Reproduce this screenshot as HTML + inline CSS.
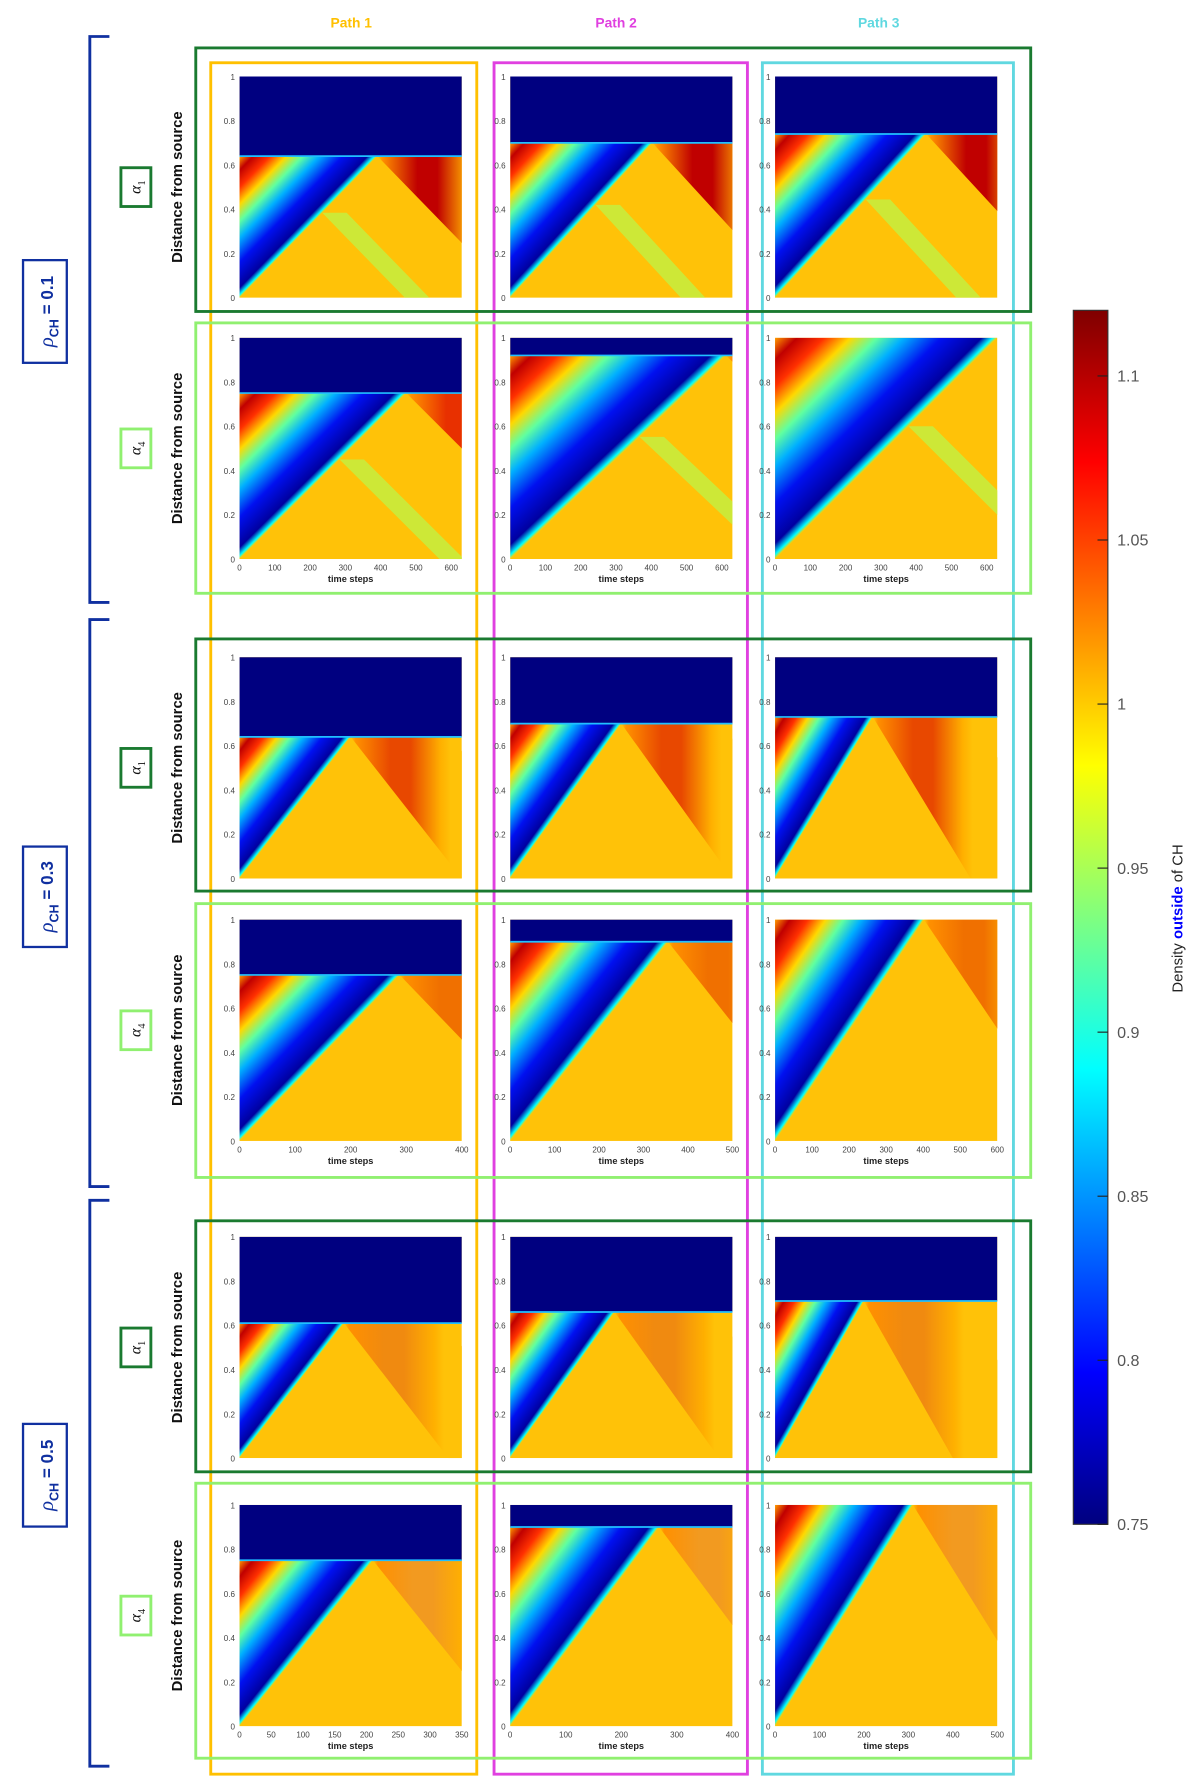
<!DOCTYPE html>
<html><head><meta charset="utf-8"><style>
html,body{margin:0;padding:0;background:#fff;}
svg{display:block;font-family:"Liberation Sans",sans-serif;}
</style></head><body>
<svg id="fig" width="1200" height="1789" viewBox="0 0 1042 1568" preserveAspectRatio="none" xmlns="http://www.w3.org/2000/svg">
<defs>
<linearGradient id="jet" x1="0" y1="1" x2="0" y2="0">
<stop offset="0" stop-color="#00007f"/><stop offset="0.125" stop-color="#0000ff"/><stop offset="0.375" stop-color="#00ffff"/><stop offset="0.625" stop-color="#ffff00"/><stop offset="0.875" stop-color="#ff0000"/><stop offset="1" stop-color="#7f0000"/>
</linearGradient>
<clipPath id="pclip"><rect x="0" y="0" width="193" height="194"/></clipPath>
</defs>
<g id="frames"></g>
<g id="panels"></g>
<g id="labels"></g>
<g id="cbar"></g>
</svg>
<script>
// data
const rowXMaxByPanel = [[600,630,630],[630,630,630],[400,500,600],[400,500,600],[350,400,500],[350,400,500]];
const xTickLabels = [[0,100,200,300,400,500,600],[0,100,200,300,400,500,600],[0,100,200,300,400,500,600]];
const xTicksRow4 = [[0,100,200,300,400],[0,100,200,300,400,500],[0,100,200,300,400,500,600]];
const xTicksRow6 = [[0,50,100,150,200,250,300,350],[0,100,200,300,400],[0,100,200,300,400,500]];
const boundary = [[0.64,0.70,0.74],[0.75,0.92,1.0],[0.64,0.70,0.73],[0.75,0.90,1.0],[0.61,0.66,0.71],[0.75,0.90,1.0]];
const meetFrac = [[0.62,0.64,0.68],[0.75,0.97,1.0],[0.50,0.50,0.44],[0.72,0.71,0.67],[0.47,0.47,0.40],[0.60,0.67,0.62]];
const yTickLabels = [0,0.2,0.4,0.6,0.8,1];
const cbTicks = [0.75,0.8,0.85,0.9,0.95,1,1.05,1.1];
const cbRange = [0.75,1.12];
const pathNames = ['Path 1','Path 2','Path 3'];
const rhoLabels = ['0.1','0.3','0.5'];

const NS='http://www.w3.org/2000/svg';
function mk(tag, attrs, parent){const e=document.createElementNS(NS,tag);for(const k in attrs)e.setAttribute(k,attrs[k]);parent.appendChild(e);return e;}
const frames=document.getElementById('frames'), panels=document.getElementById('panels'), labels=document.getElementById('labels'), cbar=document.getElementById('cbar');
const defs=document.querySelector('defs');

const colX=[208,443,673], PW=193;
const rowY=[67,296,576,806,1084,1319], PH=194;
const rowFrameY=[[42,273],[283,520],[560,781],[792,1032],[1070,1290],[1300,1541]];
const reflColors=['#c00000','#e83000','#e84800','#f07000','#f08a10','#f29a20'];

const colCols=['#ffc000','#e040e0','#60d8e0'], colFX=[[183,414],[429,649],[662,880]];
for(let c=0;c<3;c++){
  const r=mk('rect',{x:colFX[c][0],y:55,width:colFX[c][1]-colFX[c][0],height:1500,fill:'none',stroke:colCols[c],'stroke-width':2.5},frames);
  
  
  const t=mk('text',{x:[305,535,763][c],y:24,fill:colCols[c],'font-size':12,'font-weight':'bold','text-anchor':'middle'},labels);
  t.textContent=pathNames[c];
  
  
}
for(let r=0;r<6;r++){
  const fr=mk('rect',{x:170,y:rowFrameY[r][0],width:725,height:rowFrameY[r][1]-rowFrameY[r][0],fill:'none',stroke:r%2?'#90f070':'#1a7a30','stroke-width':2.5},frames);
  
  
}

let gid=0;
for(let r=0;r<6;r++){
  for(let c=0;c<3;c++){
    const g=mk('g',{transform:'translate('+colX[c]+','+rowY[r]+')'},panels);
    
    
    const gc=mk('g',{'clip-path':'url(#pclip)'},g);
    const b=boundary[r][c], tm=meetFrac[r][c];
    const yb=PH*(1-b), xm=PW*tm;
    mk('rect',{x:0,y:0,width:PW,height:PH,fill:'#ffc208'},gc);
    const slope=xm/(PH-yb);
    const dx=(PH-yb)*slope;
    // secondary green band
    if(r<2){
      const f=0.6, px=xm*f, py=PH-(PH-yb)*f, w=PW*0.11, dd=(PH-py)*slope;
      mk('polygon',{points:[px,py, px+w,py, px+w+dd,PH, px+dd,PH].join(' '),fill:'#c4ee40',opacity:0.85},gc);
    }
    // reflected band
    const id1='rg'+(gid++);
    const lg=mk('linearGradient',{id:id1,gradientUnits:'userSpaceOnUse',x1:xm,y1:yb,x2:xm+PW*0.45,y2:yb},defs);
    const rc=reflColors[r];
    [[0,'#ffc208'],[0.05,'#ff9000'],[0.4,rc],[0.6,rc],[0.9,'#ffb000'],[1,'#ffc208']].forEach(s=>mk('stop',{offset:s[0],'stop-color':s[1]},lg));
    mk('polygon',{points:[xm,yb, xm+PW*0.45,yb, xm+PW*0.45+dx,PH, xm+dx,PH].join(' '),fill:'url(#'+id1+')'},gc);
    // left wedge
    const id2='lg'+(gid++);
    const ux=xm, uy=yb-PH, L=Math.hypot(ux,uy);
    const t=((yb-PH)*uy)/(L*L);
    const fx=t*ux, fy=PH+t*uy;
    const lg2=mk('linearGradient',{id:id2,gradientUnits:'userSpaceOnUse',x1:0,y1:yb,x2:fx,y2:fy},defs);
    [[0,'#ff9a00'],[0.1,'#c00000'],[0.22,'#ff3000'],[0.34,'#ffd800'],[0.46,'#60ffa0'],[0.58,'#00b0ff'],[0.75,'#0010f0'],[0.93,'#0000a0'],[0.98,'#00ffff'],[1,'#ffd000']].forEach(s=>mk('stop',{offset:s[0],'stop-color':s[1]},lg2));
    mk('polygon',{points:[0,PH, xm,yb, 0,yb].join(' '),fill:'url(#'+id2+')'},gc);
    if(yb>0.5){
      mk('rect',{x:0,y:0,width:PW,height:yb,fill:'#000080'},gc);
      mk('line',{x1:0,y1:yb,x2:PW,y2:yb,stroke:'#20c0ff','stroke-width':1.5},gc);
    }
    yTickLabels.forEach(v=>{
      const tt=mk('text',{x:-4,y:PH*(1-v)+3,'font-size':7,fill:'#444','text-anchor':'end'},g);
      tt.textContent=v;
    });
    if(r%2===1){
      const ticks=r===1?xTickLabels[c]:(r===3?xTicksRow4[c]:xTicksRow6[c]);
      const xmax=rowXMaxByPanel[r][c];
      ticks.forEach(v=>{
        const tt=mk('text',{x:PW*v/xmax,y:PH+10,'font-size':7,fill:'#444','text-anchor':'middle'},g);
        tt.textContent=v;
      });
      const xl=mk('text',{x:PW/2,y:PH+20,'font-size':8,'font-weight':'bold',fill:'#222','text-anchor':'middle'},g);
      xl.textContent='time steps';
      
      
    }
  }
  const cy=rowY[r]+PH/2;
  const yl=mk('text',{x:0,y:0,transform:'translate(158,'+cy+') rotate(-90)','font-size':13,'font-weight':'bold',fill:'#111','text-anchor':'middle'},labels);
  yl.textContent='Distance from source';
  
  
  const ab=mk('rect',{x:105,y:cy-17,width:26,height:34,fill:'#fff',stroke:r%2?'#90f070':'#1a7a30','stroke-width':2.5},labels);
  
  
  const at=mk('text',{x:0,y:0,transform:'translate(122,'+cy+') rotate(-90)','font-size':14,'font-family':'Liberation Serif, serif','font-style':'italic',fill:'#111','text-anchor':'middle'},labels);
  at.innerHTML='α<tspan font-size="9" dy="4" font-style="normal">'+(r%2?4:1)+'</tspan>';
}
const brY=[[32,528],[543,1040],[1052,1548]], rhoY=[[228,318],[742,830],[1248,1338]];
for(let i=0;i<3;i++){
  const br=mk('path',{d:'M95 '+brY[i][0]+' H78 V'+brY[i][1]+' H95',fill:'none',stroke:'#1030a0','stroke-width':2.5},labels);
  
  
  const rb=mk('rect',{x:20,y:rhoY[i][0],width:38,height:rhoY[i][1]-rhoY[i][0],fill:'#fff',stroke:'#1030a0','stroke-width':2},labels);
  
  
  const cy=(rhoY[i][0]+rhoY[i][1])/2;
  const rt=mk('text',{x:0,y:0,transform:'translate(46,'+cy+') rotate(-90)','font-size':15,'font-weight':'bold',fill:'#1030a0','text-anchor':'middle'},labels);
  rt.innerHTML='<tspan font-family="Liberation Serif, serif" font-style="italic" font-weight="normal" font-size="18">ρ</tspan><tspan font-size="11" dy="5">CH</tspan><tspan dy="-5"> = '+rhoLabels[i]+'</tspan>';
}
const cbTop=272, cbBot=1336;
function cbY(v){return cbBot-(v-cbRange[0])/(cbRange[1]-cbRange[0])*(cbBot-cbTop);}
const cb=mk('rect',{x:932,y:cbTop,width:30,height:cbBot-cbTop,fill:'url(#jet)',stroke:'#333','stroke-width':1},cbar);


cbTicks.forEach(v=>{
  mk('line',{x1:953,x2:962,y1:cbY(v),y2:cbY(v),stroke:'#222','stroke-width':1},cbar);
  const t=mk('text',{x:970,y:cbY(v)+5,'font-size':14,fill:'#555'},cbar);
  t.textContent=v;
});
const ct=mk('text',{x:0,y:0,transform:'translate(1027,805) rotate(-90)','font-size':13,fill:'#222','text-anchor':'middle'},cbar);
ct.innerHTML='Density <tspan fill="#0000ff" font-weight="bold">outside</tspan> of CH';


</script>
</body></html>
